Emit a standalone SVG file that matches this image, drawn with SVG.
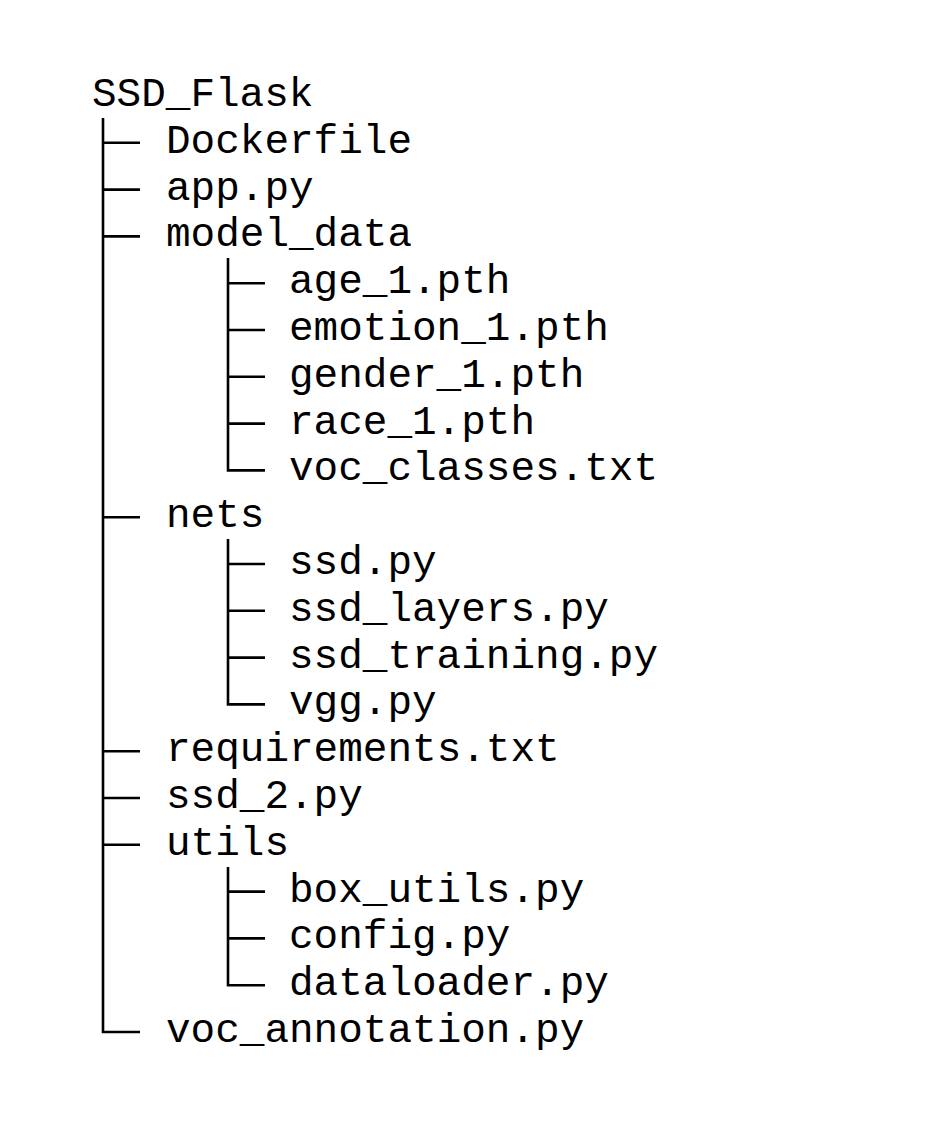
<svg xmlns="http://www.w3.org/2000/svg" width="945" height="1133" viewBox="0 0 945 1133">
<style>
text{font-family:"Courier New",Courier,"Nimbus Mono PS",FreeMono,"Liberation Mono",monospace;font-size:41px;fill:#000}
.c{fill:none;stroke:#000;stroke-width:2.6;stroke-linecap:butt;stroke-linejoin:miter}
</style>
<rect width="945" height="1133" fill="#fff"/>
<g id="connectors">
<path class="c" d="M103 118V1032H140"/>
<path class="c" d="M103 142.8H140M103 189.6H140M103 236.4H140M103 517.2H140M103 751.2H140M103 798H140M103 844.8H140"/>
<path class="c" d="M228 258V470.4H265M228 283.2H265M228 330H265M228 376.8H265M228 423.6H265"/>
<path class="c" d="M228 539V704.4H265M228 564H265M228 610.8H265M228 657.6H265"/>
<path class="c" d="M228 867V985.2H265M228 891.6H265M228 938.4H265"/>
</g>
<g id="root"><text x="92" y="106">SSD_Flask</text></g>
<g id="n-dockerfile"><text x="166" y="152.8">Dockerfile</text></g>
<g id="n-app"><text x="166" y="199.6">app.py</text></g>
<g id="n-model_data"><text x="166" y="246.4">model_data</text></g>
<g id="n-age"><text x="289" y="293.2">age_1.pth</text></g>
<g id="n-emotion"><text x="289" y="340">emotion_1.pth</text></g>
<g id="n-gender"><text x="289" y="386.8">gender_1.pth</text></g>
<g id="n-race"><text x="289" y="433.6">race_1.pth</text></g>
<g id="n-voc_classes"><text x="289" y="480.4">voc_classes.txt</text></g>
<g id="n-nets"><text x="166" y="527.2">nets</text></g>
<g id="n-ssd"><text x="289" y="574">ssd.py</text></g>
<g id="n-ssd_layers"><text x="289" y="620.8">ssd_layers.py</text></g>
<g id="n-ssd_training"><text x="289" y="667.6">ssd_training.py</text></g>
<g id="n-vgg"><text x="289" y="714.4">vgg.py</text></g>
<g id="n-requirements"><text x="166" y="761.2">requirements.txt</text></g>
<g id="n-ssd_2"><text x="166" y="808">ssd_2.py</text></g>
<g id="n-utils"><text x="166" y="854.8">utils</text></g>
<g id="n-box_utils"><text x="289" y="901.6">box_utils.py</text></g>
<g id="n-config"><text x="289" y="948.4">config.py</text></g>
<g id="n-dataloader"><text x="289" y="995.2">dataloader.py</text></g>
<g id="n-voc_annotation"><text x="166" y="1042">voc_annotation.py</text></g>
</svg>
